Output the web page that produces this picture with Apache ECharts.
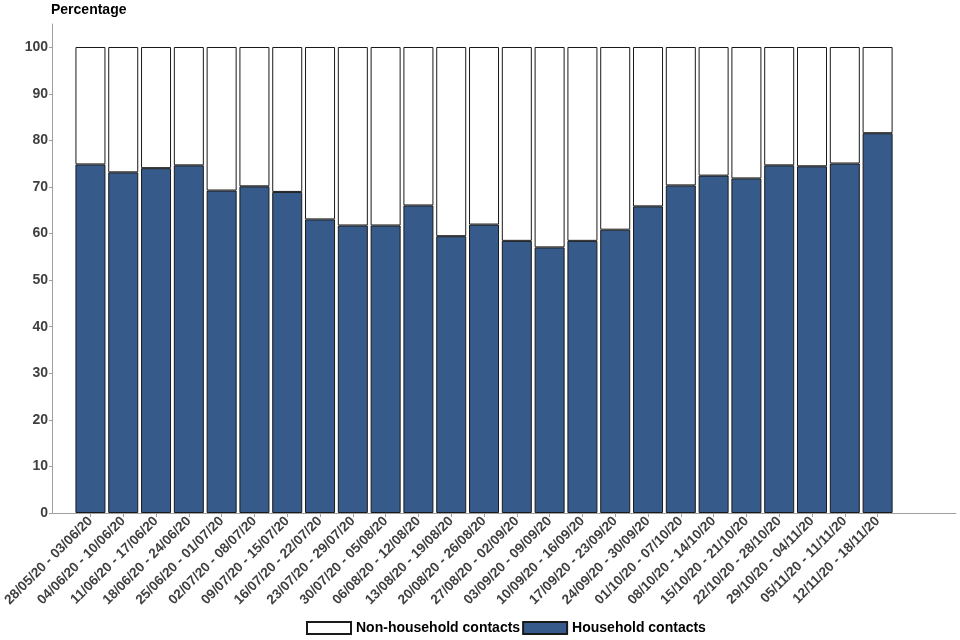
<!DOCTYPE html>
<html>
<head>
<meta charset="utf-8">
<script src="https://cdn.jsdelivr.net/npm/echarts@6/dist/echarts.min.js"></script>
<style>html,body{margin:0;padding:0;background:#fff;}#c{width:960px;height:640px;}</style>
</head>
<body>
<div id="c"></div>
<script>
const categories = [
  '28/05/20 - 03/06/20','04/06/20 - 10/06/20','11/06/20 - 17/06/20','18/06/20 - 24/06/20',
  '25/06/20 - 01/07/20','02/07/20 - 08/07/20','09/07/20 - 15/07/20','16/07/20 - 22/07/20',
  '23/07/20 - 29/07/20','30/07/20 - 05/08/20','06/08/20 - 12/08/20','13/08/20 - 19/08/20',
  '20/08/20 - 26/08/20','27/08/20 - 02/09/20','03/09/20 - 09/09/20','10/09/20 - 16/09/20',
  '17/09/20 - 23/09/20','24/09/20 - 30/09/20','01/10/20 - 07/10/20','08/10/20 - 14/10/20',
  '15/10/20 - 21/10/20','22/10/20 - 28/10/20','29/10/20 - 04/11/20','05/11/20 - 11/11/20',
  '12/11/20 - 18/11/20'
];
const household = [74.8, 73.1, 74.0, 74.6, 69.2, 70.1, 68.9, 63.0, 61.7, 61.7, 66.0, 59.4, 61.9,
                   58.4, 57.0, 58.4, 60.8, 65.8, 70.3, 72.4, 71.8, 74.6, 74.4, 75.0, 81.5];
const nonHousehold = [25.2, 26.9, 26.0, 25.4, 30.8, 29.9, 31.1, 37.0, 38.3, 38.3, 34.0, 40.6, 38.1,
                      41.6, 43.0, 41.6, 39.2, 34.2, 29.7, 27.6, 28.2, 25.4, 25.6, 25.0, 18.5];
const yTicks = [0, 10, 20, 30, 40, 50, 60, 70, 80, 90, 100];

const font = 'Liberation Sans, Arial, sans-serif';
const chart = echarts.init(document.getElementById('c'), null, {renderer: 'canvas'});
chart.setOption({
  animation: false,
  backgroundColor: '#ffffff',
  title: {
    text: 'Percentage', left: 51, top: 3, padding: 0,
    textStyle: {fontFamily: font, fontWeight: 'bold', fontSize: 14, color: '#000'}
  },
  legend: {
    data: ['Non-household contacts', 'Household contacts'],
    left: 301, top: 616, itemWidth: 44, itemHeight: 12, itemGap: 2,
    icon: 'rect',
    textStyle: {fontFamily: font, fontWeight: 'bold', fontSize: 14, color: '#000'}
  },
  grid: [
    {left: 52, right: 4, top: 24, bottom: 127, containLabel: false},
    {left: 74, right: 66, top: 47, bottom: 127, containLabel: false}
  ],
  xAxis: [
    {
      gridIndex: 0, type: 'value', min: 0, max: 1,
      axisLine: {show: true, lineStyle: {color: '#a0a0a0', width: 1}},
      axisTick: {show: false}, axisLabel: {show: false}, splitLine: {show: false}
    },
    {
      gridIndex: 1, type: 'category', data: categories,
      axisLine: {show: false},
      axisTick: {show: true, alignWithLabel: true, length: 4, lineStyle: {color: '#a0a0a0'}},
      axisLabel: {
        interval: 0, rotate: 45, margin: 6,
        fontFamily: font, fontWeight: 'bold', fontSize: 13.6, color: '#404040'
      },
      splitLine: {show: false}
    }
  ],
  yAxis: [
    {
      gridIndex: 0, type: 'value', min: 0, max: 105, interval: 10,
      axisLine: {show: true, lineStyle: {color: '#a0a0a0', width: 1}},
      axisTick: {show: true, length: 3, customValues: yTicks, lineStyle: {color: '#a0a0a0'}},
      axisLabel: {
        customValues: yTicks, margin: 4,
        fontFamily: font, fontWeight: 'bold', fontSize: 14, color: '#404040'
      },
      splitLine: {show: false}
    },
    {
      gridIndex: 1, type: 'value', min: 0, max: 100, show: false, splitLine: {show: false}
    }
  ],
  series: [
    {
      name: 'Household contacts', type: 'bar', stack: 'total',
      xAxisIndex: 1, yAxisIndex: 1, data: household,
      barCategoryGap: '8.5%',
      itemStyle: {color: '#365a89', borderColor: '#1a1a1a', borderWidth: 1}
    },
    {
      name: 'Non-household contacts', type: 'bar', stack: 'total',
      xAxisIndex: 1, yAxisIndex: 1, data: nonHousehold,
      barCategoryGap: '8.5%',
      itemStyle: {color: '#ffffff', borderColor: '#1a1a1a', borderWidth: 1}
    }
  ]
});
</script>
</body>
</html>
